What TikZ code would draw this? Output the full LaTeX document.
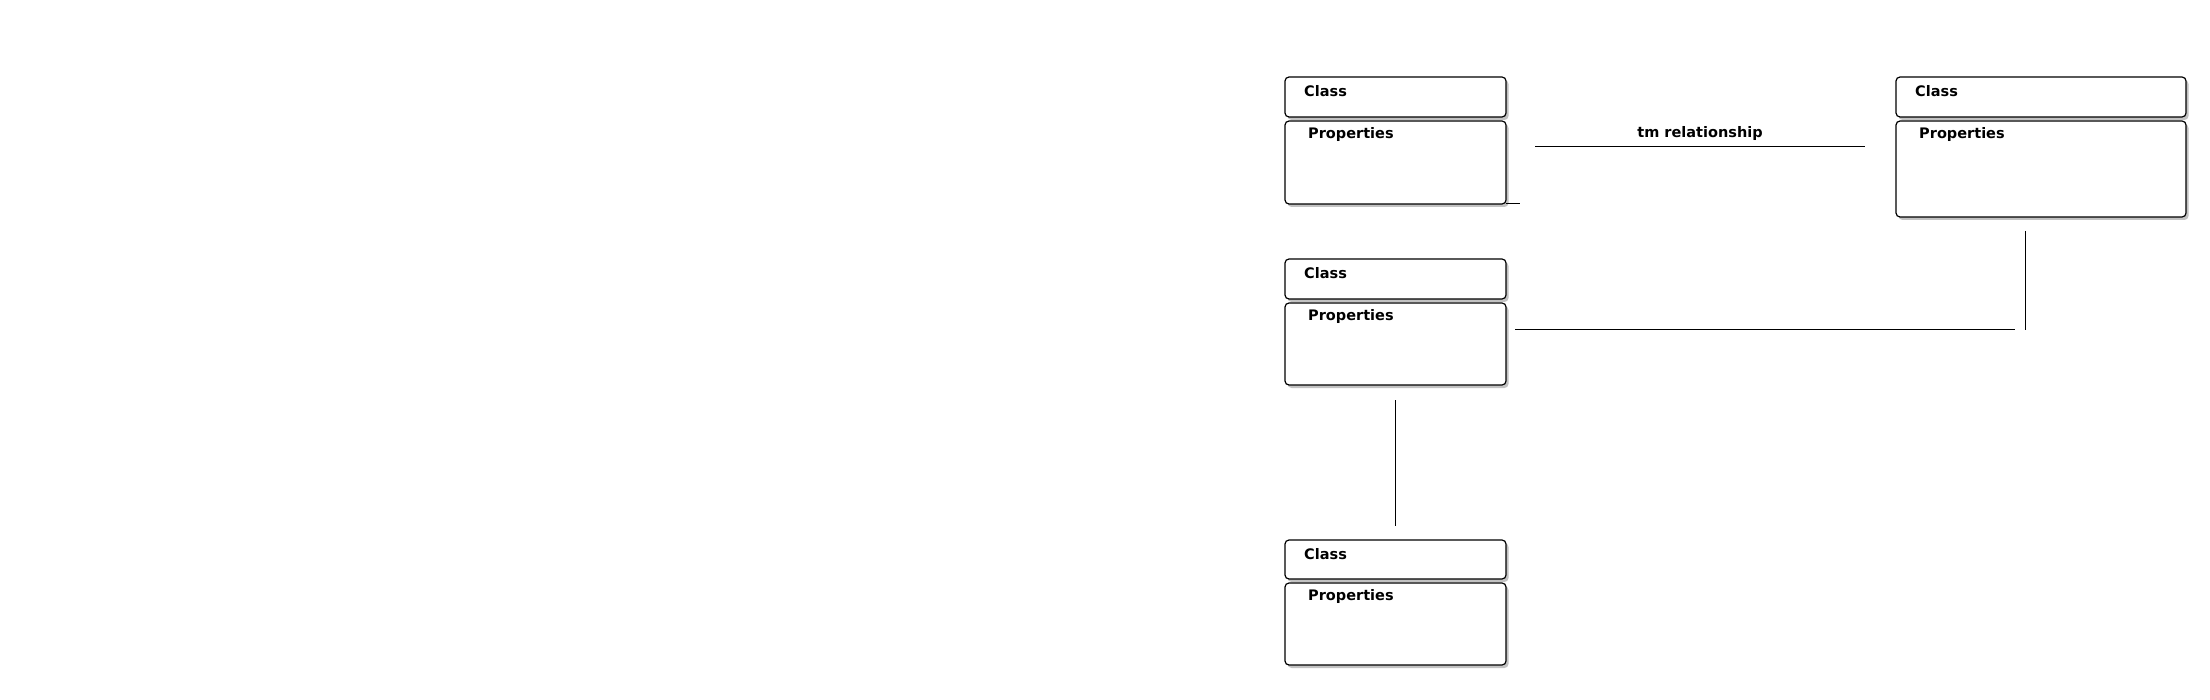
\documentclass[tikz,border=0pt]{standalone}
\usepackage{fontspec}
\setmainfont{DejaVu Sans}
\usetikzlibrary{positioning,shadows}
\colorlet{box edge}{black}
\colorlet{box shade}{black!40}
\tikzset{umlbox/.style={draw=box edge, line width=1.2pt, rounded corners=4pt, fill=white,
        inner sep=0pt, outer sep=0pt, minimum width=221pt,
        drop shadow={shadow xshift=2.5pt, shadow yshift=-3pt, fill=box shade, opacity=0.6}},
      boxtitle/.style={anchor=base west, inner sep=0pt, font=\bfseries\fontsize{14.5}{17}\selectfont},
      rel/.style={draw=black, line width=1pt}}

\begin{document}
\begin{tikzpicture}[x=1pt,y=-1pt]
\useasboundingbox (0,0) rectangle (2210,700);
    % class boxes
    \node[umlbox, anchor=north west, minimum height=40pt] (cls1) at (1285,77) {};
    \node[umlbox, minimum height=83pt, below=4pt of cls1] (prop1) {};
    \node[umlbox, anchor=north west, minimum height=40pt] (cls2) at (1285,259) {};
    \node[umlbox, minimum height=82pt, below=4pt of cls2] (prop2) {};
    \node[umlbox, anchor=north west, minimum height=39pt] (cls3) at (1285,540) {};
    \node[umlbox, minimum height=82pt, below=4pt of cls3] (prop3) {};
    \node[umlbox, anchor=north west, minimum height=40pt, minimum width=290pt] (clsR) at (1896,77) {};
    \node[umlbox, minimum height=96pt, minimum width=290pt, below=4pt of clsR] (propR) {};
    \foreach \b in {1,2,3,R}{
      \node[boxtitle] (cls\b t) at ([shift={(19,19.8)}]cls\b.north west) {Class};
      \node[boxtitle] (prop\b t) at ([shift={(23,17.3)}]prop\b.north west) {Properties};
    }
    % connectors
    \coordinate (tmL) at (1535,147);
    \coordinate (tmR) at (1865,147);
    \coordinate (stub) at ([xshift=14pt]prop1.south east);
    \coordinate (vTop) at (2025,231);
    \coordinate (vBot) at (2025,330);
    \coordinate (hL) at (1515,330);
    \coordinate (hR) at (2015,330);
    \coordinate (dTop) at (1395,400);
    \coordinate (dBot) at (1395,526);
    \draw[rel] (tmL) -- node[boxtitle, anchor=base, yshift=9.5pt] (tmlabel) {tm relationship} (tmR);
    \draw[rel] (prop1.south east) -- (stub);
    \draw[rel] (vTop) -- (vBot);
    \draw[rel] (hL) -- (hR);
    \draw[rel] (dTop) -- (dBot);
\end{tikzpicture}
\end{document}
